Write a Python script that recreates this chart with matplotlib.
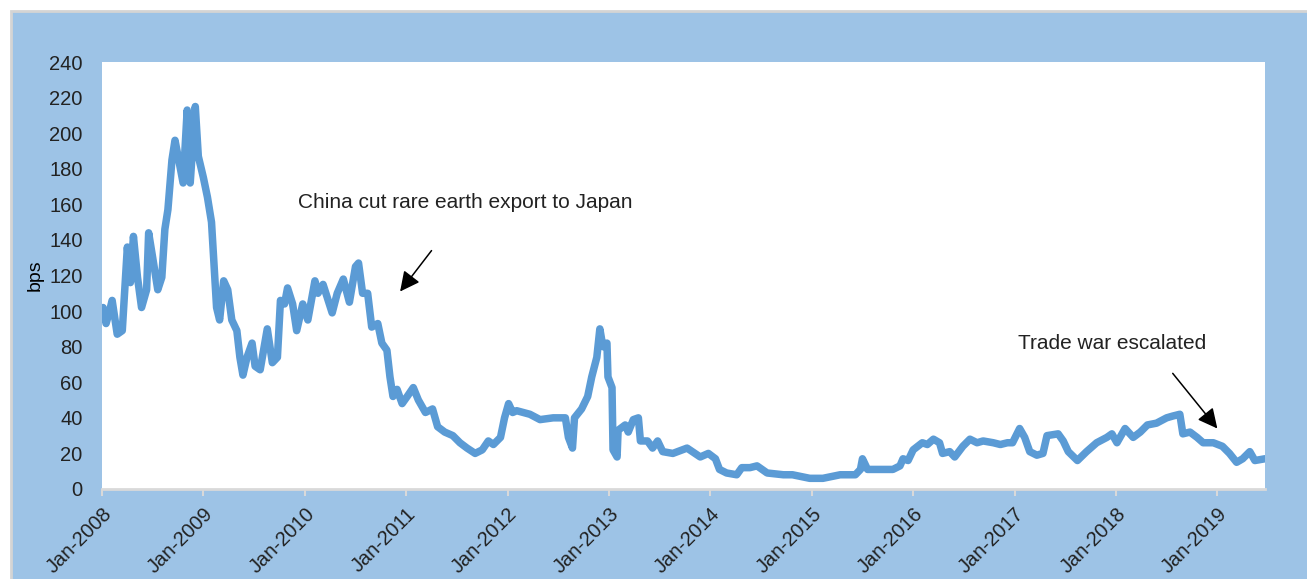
import matplotlib
matplotlib.use("Agg")
import matplotlib.pyplot as plt
from matplotlib.patches import Rectangle

plt.rcParams['font.family'] = ['Liberation Sans', 'DejaVu Sans']

# spread, bps (x as decimal year)
t = [2008.01, 2008.04, 2008.07, 2008.10, 2008.15, 2008.20, 2008.25, 2008.28, 2008.31, 2008.35,
     2008.39, 2008.44, 2008.46, 2008.50, 2008.55, 2008.59, 2008.62, 2008.65, 2008.69, 2008.72,
     2008.75, 2008.80, 2008.84, 2008.87, 2008.92, 2008.95, 2009.00, 2009.04, 2009.08, 2009.11,
     2009.13, 2009.16, 2009.20, 2009.24, 2009.28, 2009.33, 2009.36, 2009.39, 2009.43, 2009.48,
     2009.51, 2009.56, 2009.63, 2009.68, 2009.73, 2009.76, 2009.80, 2009.83, 2009.88, 2009.92,
     2009.98, 2010.03, 2010.10, 2010.13, 2010.18, 2010.27, 2010.32, 2010.38, 2010.44, 2010.50,
     2010.53, 2010.57, 2010.62, 2010.66, 2010.72, 2010.76, 2010.81, 2010.84, 2010.87, 2010.91,
     2010.96, 2011.01, 2011.07, 2011.12, 2011.19, 2011.26, 2011.31, 2011.38, 2011.46, 2011.53,
     2011.60, 2011.68, 2011.75, 2011.81, 2011.86, 2011.93, 2011.97, 2012.01, 2012.05, 2012.09,
     2012.22, 2012.32, 2012.45, 2012.57, 2012.60, 2012.64, 2012.66, 2012.73, 2012.79, 2012.83,
     2012.88, 2012.91, 2012.94, 2012.98, 2012.99, 2013.03, 2013.04, 2013.08, 2013.09, 2013.16,
     2013.19, 2013.24, 2013.29, 2013.31, 2013.38, 2013.43, 2013.48, 2013.53, 2013.63, 2013.77,
     2013.90, 2013.98, 2014.05, 2014.09, 2014.16, 2014.26, 2014.31, 2014.39, 2014.46, 2014.56,
     2014.72, 2014.81, 2014.98, 2015.11, 2015.28, 2015.43, 2015.48, 2015.50, 2015.55, 2015.67,
     2015.80, 2015.87, 2015.90, 2015.95, 2016.00, 2016.09, 2016.14, 2016.20, 2016.26, 2016.29,
     2016.36, 2016.41, 2016.49, 2016.56, 2016.63, 2016.69, 2016.79, 2016.86, 2016.93, 2016.98,
     2017.05, 2017.10, 2017.15, 2017.22, 2017.28, 2017.32, 2017.43, 2017.48, 2017.53, 2017.62,
     2017.71, 2017.81, 2017.91, 2017.96, 2018.01, 2018.09, 2018.17, 2018.24, 2018.31, 2018.40,
     2018.50, 2018.56, 2018.63, 2018.66, 2018.73, 2018.80, 2018.86, 2018.96, 2019.05, 2019.12,
     2019.19, 2019.25, 2019.32, 2019.37, 2019.47]
bps = [102, 93, 99, 106, 87, 89, 136, 116, 142, 119,
       102, 112, 144, 130, 112, 119, 146, 157, 185, 196,
       187, 172, 213, 172, 215, 187, 175, 164, 150, 121,
       102, 95, 117, 112, 95, 89, 74, 64, 74, 82,
       69, 67, 90, 71, 74, 106, 104, 113, 104, 89,
       104, 95, 117, 110, 115, 99, 110, 118, 105, 125,
       127, 110, 110, 91, 93, 82, 78, 63, 52, 56,
       48, 52, 57, 50, 43, 45, 35, 32, 30, 26,
       23, 20, 22, 27, 25, 29, 40, 48, 43, 44,
       42, 39, 40, 40, 29, 23, 40, 45, 52, 63,
       74, 90, 80, 82, 63, 57, 22, 18, 33, 36,
       32, 39, 40, 27, 27, 23, 27, 21, 20, 23,
       18, 20, 17, 11, 9, 8, 12, 12, 13, 9,
       8, 8, 6, 6, 8, 8, 11, 17, 11, 11,
       11, 13, 17, 16, 22, 26, 25, 28, 26, 20,
       21, 18, 24, 28, 26, 27, 26, 25, 26, 26,
       34, 29, 21, 19, 20, 30, 31, 27, 21, 16,
       21, 26, 29, 31, 26, 34, 29, 32, 36, 37,
       40, 41, 42, 31, 32, 29, 26, 26, 24, 20,
       15, 17, 21, 16, 17]

year_ticks = list(range(2008, 2020))
year_labels = ['Jan-%d' % y for y in year_ticks]

fig = plt.figure(figsize=(13.07, 5.79), dpi=100)
fig.patch.set_facecolor('white')
# blue chart area with thin grey frame on top and left
fig.patches.append(Rectangle((11 / 1307, -0.05), 1.05, (579 - 11) / 579 + 0.05,
                             transform=fig.transFigure,
                             facecolor='#9DC3E6', edgecolor='#D4D4D4', lw=2, zorder=-5))

ax = fig.add_axes([102 / 1307, 90 / 579, 1163 / 1307, 427 / 579])
ax.set_facecolor('white')
ax.plot(t, bps, color='#5B9BD5', lw=5.4, solid_joinstyle='round', solid_capstyle='round')

ax.set_xlim(2008, 2019.47)
ax.set_ylim(0, 240)
ax.set_yticks(range(0, 241, 20))
ax.set_xticks(year_ticks)
ax.set_xticklabels(year_labels, rotation=45, ha='right', rotation_mode='anchor')
ax.tick_params(axis='y', length=0, labelsize=14.5, pad=14, labelcolor='#222222')
ax.tick_params(axis='x', length=5, width=1.5, color='#D9D9D9', labelsize=14.5, pad=6,
               labelcolor='#222222')
for s in ['top', 'right', 'left']:
    ax.spines[s].set_visible(False)
ax.spines['bottom'].set_color('#D9D9D9')
ax.spines['bottom'].set_linewidth(2)
ax.set_ylabel('bps', fontsize=14, labelpad=4)

arrow = dict(arrowstyle='-|>', color='black', lw=1.1, mutation_scale=30, shrinkA=0, shrinkB=0)
ax.text(2009.93, 161, 'China cut rare earth export to Japan', fontsize=15, va='center', ha='left',
        color='#222222')
ax.annotate('', xy=(2010.94, 111), xytext=(2011.25, 134), arrowprops=arrow)
ax.text(2017.03, 81.5, 'Trade war escalated', fontsize=15, va='center', ha='left',
        color='#222222')
ax.annotate('', xy=(2019.0, 34), xytext=(2018.56, 65), arrowprops=arrow)

fig.savefig('out.png', dpi=100, facecolor=fig.get_facecolor())
